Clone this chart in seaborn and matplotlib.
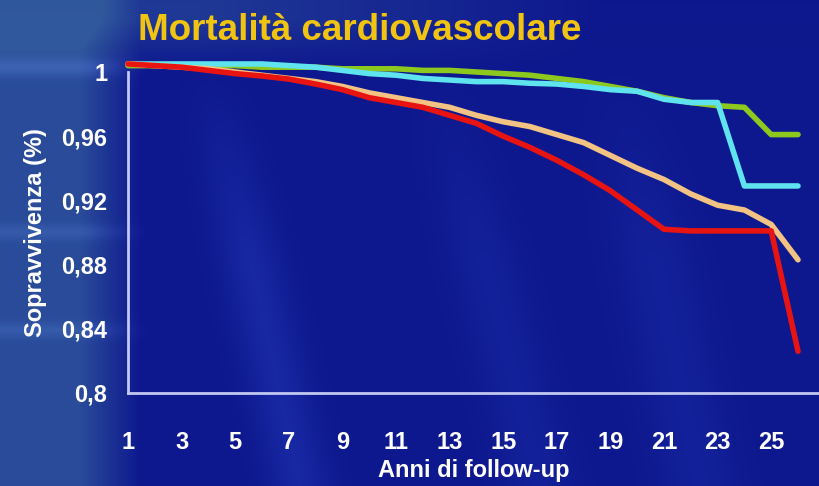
import numpy as np
import pandas as pd
import matplotlib
matplotlib.use("Agg")
import matplotlib.pyplot as plt
from matplotlib.ticker import FuncFormatter
import seaborn as sns

# Follow-up years and cardiovascular survival for the four groups
years = list(range(1, 27))
green = [1.004, 1.004, 1.004, 1.004, 1.004, 1.003, 1.003, 1.003, 1.002, 1.002,
         1.002, 1.001, 1.001, 1.000, 0.999, 0.998, 0.996, 0.994, 0.991, 0.988,
         0.984, 0.981, 0.979, 0.978, 0.961, 0.961]
cyan = [1.005, 1.005, 1.005, 1.005, 1.005, 1.005, 1.004, 1.003, 1.001, 0.999,
        0.998, 0.996, 0.995, 0.994, 0.994, 0.993, 0.9925, 0.991, 0.989, 0.988,
        0.983, 0.981, 0.981, 0.929, 0.929, 0.929]
orange = [1.005, 1.004, 1.003, 1.002, 1.000, 0.998, 0.996, 0.994, 0.991, 0.987,
          0.984, 0.981, 0.978, 0.973, 0.969, 0.966, 0.961, 0.956, 0.948, 0.940,
          0.933, 0.924, 0.917, 0.914, 0.905, 0.883]
red = [1.005, 1.004, 1.003, 1.001, 0.999, 0.9975, 0.9956, 0.9925, 0.989, 0.984,
       0.981, 0.978, 0.973, 0.968, 0.960, 0.953, 0.945, 0.936, 0.926, 0.914,
       0.902, 0.901, 0.901, 0.901, 0.901, 0.826]

x_ticks = list(range(1, 26, 2))
y_ticks = [0.80, 0.84, 0.88, 0.92, 0.96, 1.00]

title = "Mortalità cardiovascolare"
x_label = "Anni di follow-up"
y_label = "Sopravvivenza (%)"

series = {"green": green, "cyan": cyan, "orange": orange, "red": red}
palette = {"green": "#8DC81E", "cyan": "#5FE3EE", "orange": "#F3C384", "red": "#E81412"}

df = pd.concat(
    [pd.DataFrame({"anno": years, "sopravvivenza": vals, "gruppo": name})
     for name, vals in series.items()],
    ignore_index=True,
)

sns.set_theme(style="white")
plt.rcParams["font.family"] = ["Liberation Sans", "DejaVu Sans"]

W, H = 820, 486
fig = plt.figure(figsize=(W / 100, H / 100), dpi=100)

# Slide-style background: deep blue with a lighter steel-blue left margin and soft light rays
yy, xx = np.mgrid[0:H, 0:W].astype(float)
base = np.array([14, 24, 142], float) / 255
light = np.array([48, 88, 156], float) / 255
img = np.ones((H, W, 3)) * base
left_w = np.clip((140 - xx) / 60, 0, 1) * 0.8
top_w = np.clip((70 - yy) / 50, 0, 1) * np.clip((600 - xx) / 400, 0, 1) * 0.5
w = np.clip(left_w + top_w, 0, 1)
img = img * (1 - w[..., None]) + light * w[..., None]
bands = (np.exp(-((yy - 68) / 9) ** 2) + 0.7 * np.exp(-((yy - 232) / 8) ** 2)
         + 0.7 * np.exp(-((yy - 330) / 8) ** 2)) * np.clip((150 - xx) / 60, 0, 1) * 0.14
img = img + bands[..., None] * np.array([0.5, 0.6, 0.7])
for x0, slope, amp, width in [(300, 0.22, 0.09, 30), (540, 0.25, 0.05, 35), (700, 0.2, 0.05, 40)]:
    d = (xx - (x0 - slope * (H - yy)))
    ray = amp * np.exp(-(d / width) ** 2) * np.clip((yy - 60) / 200, 0, 1)
    img = img + ray[..., None] * np.array([0.4, 0.7, 0.9])
img = np.clip(img, 0, 1)
bg = fig.add_axes([0, 0, 1, 1])
bg.imshow(img, aspect="auto", extent=[0, 1, 0, 1], zorder=0)
bg.axis("off")

ax = fig.add_axes([128 / W, 1 - 393 / H, 1 - 128 / W, (393 - 72) / H])
ax.set_facecolor("none")

sns.lineplot(data=df, x="anno", y="sopravvivenza", hue="gruppo",
             hue_order=["green", "cyan", "orange", "red"], palette=palette,
             linewidth=4.0, legend=False, ax=ax)
for line in ax.lines:
    line.set_clip_on(False)
    line.set_solid_joinstyle("round")
    line.set_solid_capstyle("round")

ax.set_xlim(1, 1 + (W - 128) / 26.8)
ax.set_ylim(0.8, 1.0)
ax.set_xticks(x_ticks)
ax.set_yticks(y_ticks)
ax.yaxis.set_major_formatter(FuncFormatter(
    lambda v, p: "1" if abs(v - 1) < 1e-9 else f"{v:.2f}".rstrip("0").replace(".", ",")))

spine_col = "#C2C8F2"
sns.despine(ax=ax, top=True, right=True)
for s in ["left", "bottom"]:
    ax.spines[s].set_color(spine_col)
    ax.spines[s].set_linewidth(2.0)
ax.tick_params(axis="both", direction="out", length=5, width=2, color=spine_col,
               labelcolor="white", labelsize=17)
ax.tick_params(axis="x", pad=22)
ax.tick_params(axis="y", pad=10)
for lbl in ax.get_xticklabels() + ax.get_yticklabels():
    lbl.set_fontweight("bold")

ax.set_xlabel(x_label, color="white", fontsize=17, fontweight="bold", labelpad=4)
ax.set_ylabel(y_label, color="white", fontsize=17, fontweight="bold", labelpad=10)

fig.text(138 / W, 1 - 30 / H, title, color="#F2C412", fontsize=26.5, fontweight="bold",
         va="center", ha="left")

fig.savefig("out.png", dpi=100)
